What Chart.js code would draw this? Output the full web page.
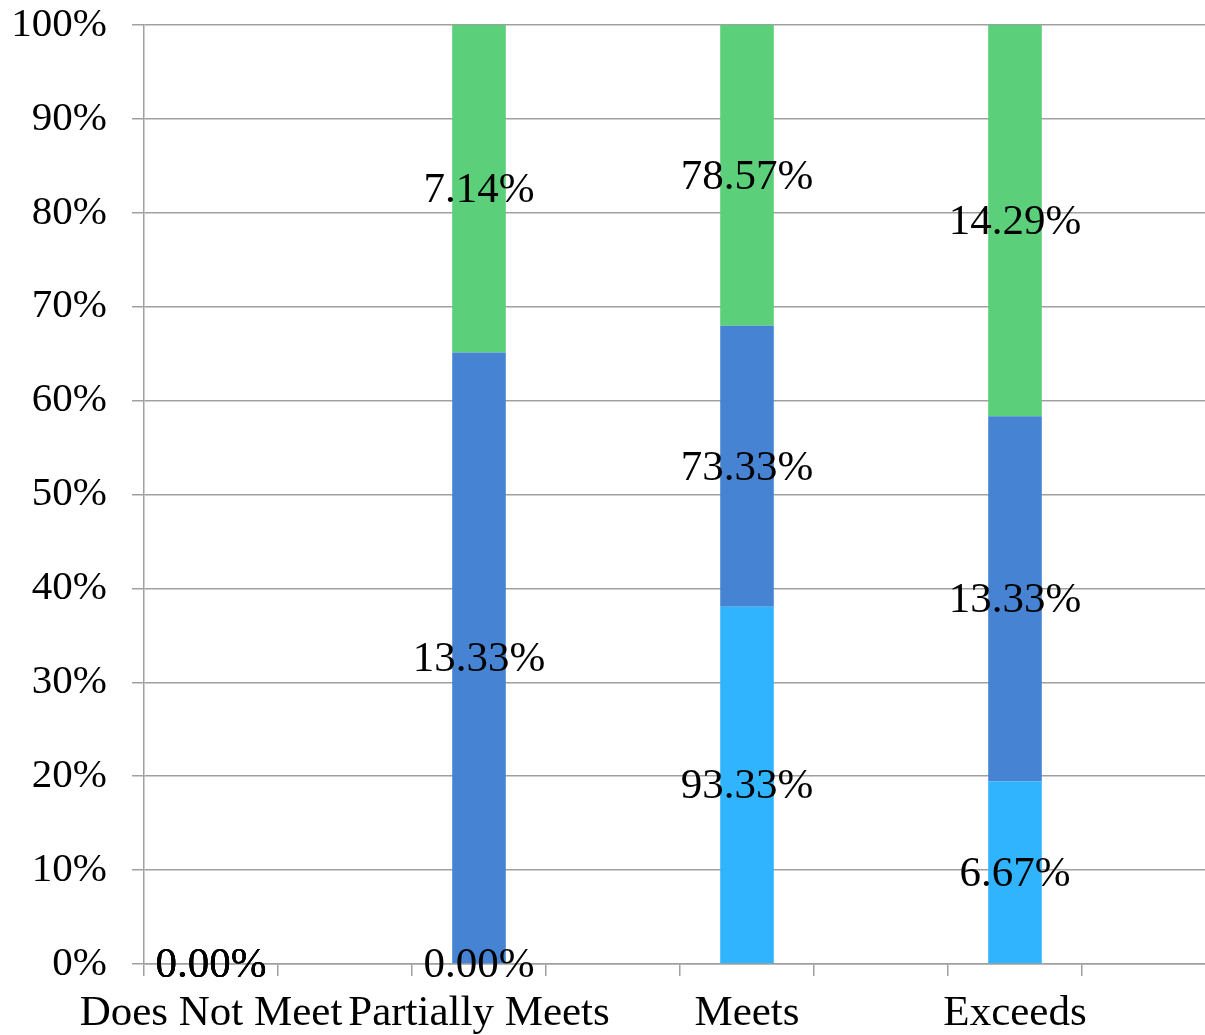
<!DOCTYPE html>
<html>
<head>
<meta charset="utf-8">
<script src="https://cdn.jsdelivr.net/npm/chart.js@4/dist/chart.umd.min.js"></script>
<style>
  html, body { margin: 0; padding: 0; background: #fff; overflow: hidden; }
  #wrap { width: 1205px; height: 1035px; overflow: hidden; }
  #box { width: 1216px; height: 1035px; position: relative; }
</style>
</head>
<body>
<div id="wrap"><div id="box"><canvas id="chart"></canvas></div></div>
<script>
const categories = ['Does Not Meet', 'Partially Meets', 'Meets', 'Exceeds'];
const lightBlue = [0, 0, 93.33, 6.67];
const midBlue = [0, 13.33, 73.33, 13.33];
const green = [0, 7.14, 78.57, 14.29];
const yTicks = [0, 10, 20, 30, 40, 50, 60, 70, 80, 90, 100];

const gridColor = '#A0A0A0';
const serif = 'Liberation Serif';

// each category takes two slots, the second one empty
const slotLabels = categories.flatMap(c => [c, '']);
const totals = categories.map((c, i) => lightBlue[i] + midBlue[i] + green[i]);
const toSlots = arr => arr.flatMap((v, i) => [totals[i] ? v / totals[i] * 100 : 0, null]);
const toRaw = arr => arr.flatMap(v => [v, null]);

const valueLabels = {
  id: 'valueLabels',
  afterDatasetsDraw(chart) {
    const ctx = chart.ctx;
    ctx.save();
    ctx.font = '43px "' + serif + '"';
    ctx.fillStyle = '#000';
    ctx.textAlign = 'center';
    ctx.textBaseline = 'middle';
    chart.data.datasets.forEach((ds, di) => {
      const meta = chart.getDatasetMeta(di);
      meta.data.forEach((bar, i) => {
        const raw = ds.raw[i];
        if (raw === null || raw === undefined) return;
        const p = bar.getProps(['x', 'y', 'base'], true);
        ctx.fillText(raw.toFixed(2) + '%', p.x, (p.y + p.base) / 2 + 2);
      });
    });
    ctx.restore();
  }
};

Chart.defaults.font.family = serif;
Chart.defaults.font.size = 41;
Chart.defaults.color = '#000';

new Chart(document.getElementById('chart'), {
  type: 'bar',
  data: {
    labels: slotLabels,
    datasets: [
      { data: toSlots(lightBlue), raw: toRaw(lightBlue), backgroundColor: '#31B4FE' },
      { data: toSlots(midBlue), raw: toRaw(midBlue), backgroundColor: '#4684D3' },
      { data: toSlots(green), raw: toRaw(green), backgroundColor: '#5BCF79' }
    ]
  },
  options: {
    responsive: true,
    maintainAspectRatio: false,
    animation: false,
    layout: { padding: 0 },
    datasets: { bar: { categoryPercentage: 1, barPercentage: 0.4, borderWidth: 0 } },
    plugins: { legend: { display: false }, tooltip: { enabled: false } },
    scales: {
      x: {
        stacked: true,
        afterFit: scale => { scale.height = 71; },
        grid: { drawOnChartArea: false, offset: true, tickLength: 12, color: gridColor, lineWidth: 1.5 },
        border: { color: gridColor, width: 1.5 },
        ticks: { autoSkip: false, maxRotation: 0, padding: 12, font: { size: 43 } }
      },
      y: {
        stacked: true,
        min: 0,
        max: 100,
        afterBuildTicks: scale => { scale.ticks = yTicks.map(v => ({ value: v })); },
        afterFit: scale => { scale.width = 144; scale.paddingTop = 25; },
        grid: { tickLength: 12, color: gridColor, lineWidth: 1.5 },
        border: { color: gridColor, width: 1.5 },
        ticks: { padding: 25, callback: v => v + '%' }
      }
    }
  },
  plugins: [valueLabels]
});
</script>
</body>
</html>
